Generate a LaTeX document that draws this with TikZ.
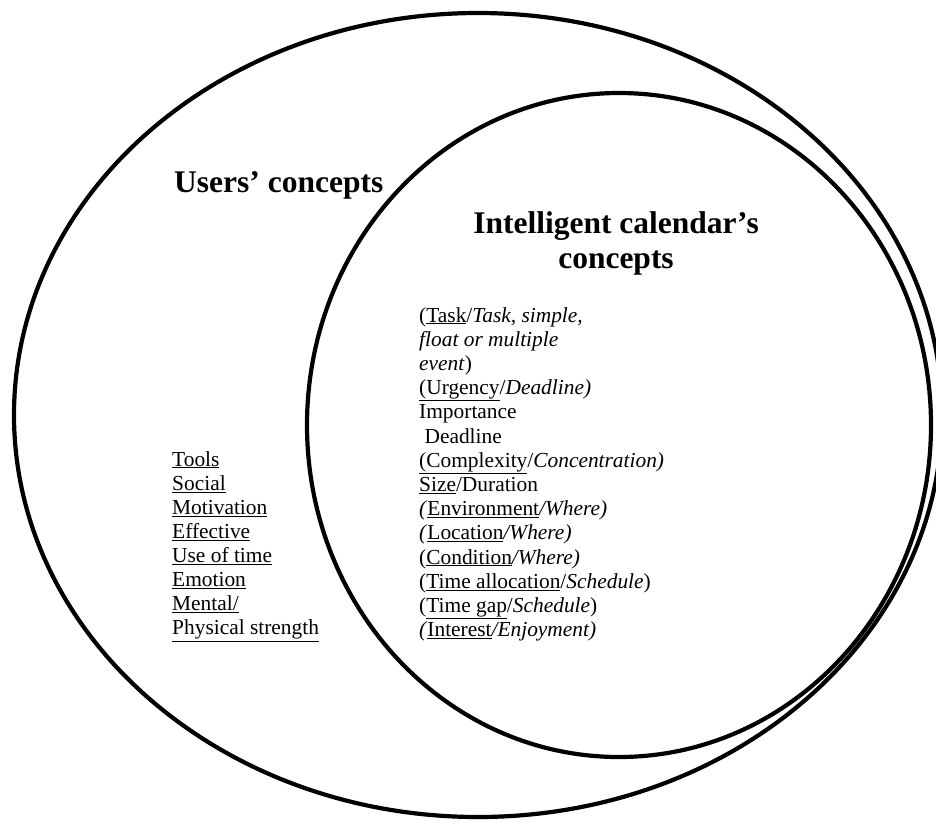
\documentclass[tikz,border=0pt]{standalone}
\usepackage{fontspec}
\setmainfont{Liberation Serif}
\newcommand{\ul}[1]{\underline{#1}}
\begin{document}
\begin{tikzpicture}[x=1pt,y=-1pt,
  ring/.style={draw=black,line width=4.2pt},
  heading/.style={inner sep=0pt,font=\fontsize{31.5}{35}\selectfont\bfseries},
  item/.style={inner sep=0pt,anchor=base west,font=\fontsize{21.4}{24.2}\selectfont}]
  \useasboundingbox (0,0) rectangle (936,823);
  \clip (0,0) rectangle (936,823);
  \fill[white] (0,0) rectangle (936,823);

  % the two sets
  \draw[ring] (478,415) ellipse [x radius=464pt, y radius=402pt];
  \draw[ring] (619,425) ellipse [x radius=312pt, y radius=332pt];

  % set titles
  \node[heading,anchor=base west] (users) at (174,192) {Users’ concepts};
  \node[heading,anchor=base] (cal1) at (616,233) {Intelligent calendar’s};
  \node[heading,anchor=base] (cal2) at (616,268) {concepts};

  % user concepts
  \node[item] (u1) at (172,466) {\ul{Tools}};
  \node[item] (u2) at (172,490.1) {\ul{Social}};
  \node[item] (u3) at (172,514.2) {\ul{Motivation}};
  \node[item] (u4) at (172,538.3) {\ul{Effective}};
  \node[item] (u5) at (172,562.4) {\ul{Use of time}};
  \node[item] (u6) at (172,586.5) {\ul{Emotion}};
  \node[item] (u7) at (172,610.6) {\ul{Mental/}};
  \node[item] (u8) at (172,634.7) {\ul{Physical strength}};

  % calendar concepts
  \node[item] (c1) at (419,322) {(\ul{Task}/\textit{Task, simple,}};
  \node[item] (c2) at (419,346.2) {\textit{float or multiple}};
  \node[item] (c3) at (419,370.4) {\textit{event})};
  \node[item] (c4) at (419,394.6) {\ul{(Urgency}/\textit{Deadline)}};
  \node[item] (c5) at (419,418.8) {Importance};
  \node[item] (c6) at (419,443) {\ Deadline};
  \node[item] (c7) at (419,467.2) {\ul{(Complexity}/\textit{Concentration)}};
  \node[item] (c8) at (419,491.4) {\ul{Size}/Duration};
  \node[item] (c9) at (419,515.6) {\textit{(}\ul{Environment}\textit{/Where)}};
  \node[item] (c10) at (419,539.8) {\textit{(}\ul{Location}\textit{/Where)}};
  \node[item] (c11) at (419,564) {(\ul{Condition}\textit{/Where)}};
  \node[item] (c12) at (419,588.2) {(\ul{Time allocation}/\textit{Schedule})};
  \node[item] (c13) at (419,612.4) {(\ul{Time gap}/\textit{Schedule})};
  \node[item] (c14) at (419,636.6) {\textit{(}\ul{Interest}\textit{/Enjoyment)}};
\end{tikzpicture}
\end{document}
